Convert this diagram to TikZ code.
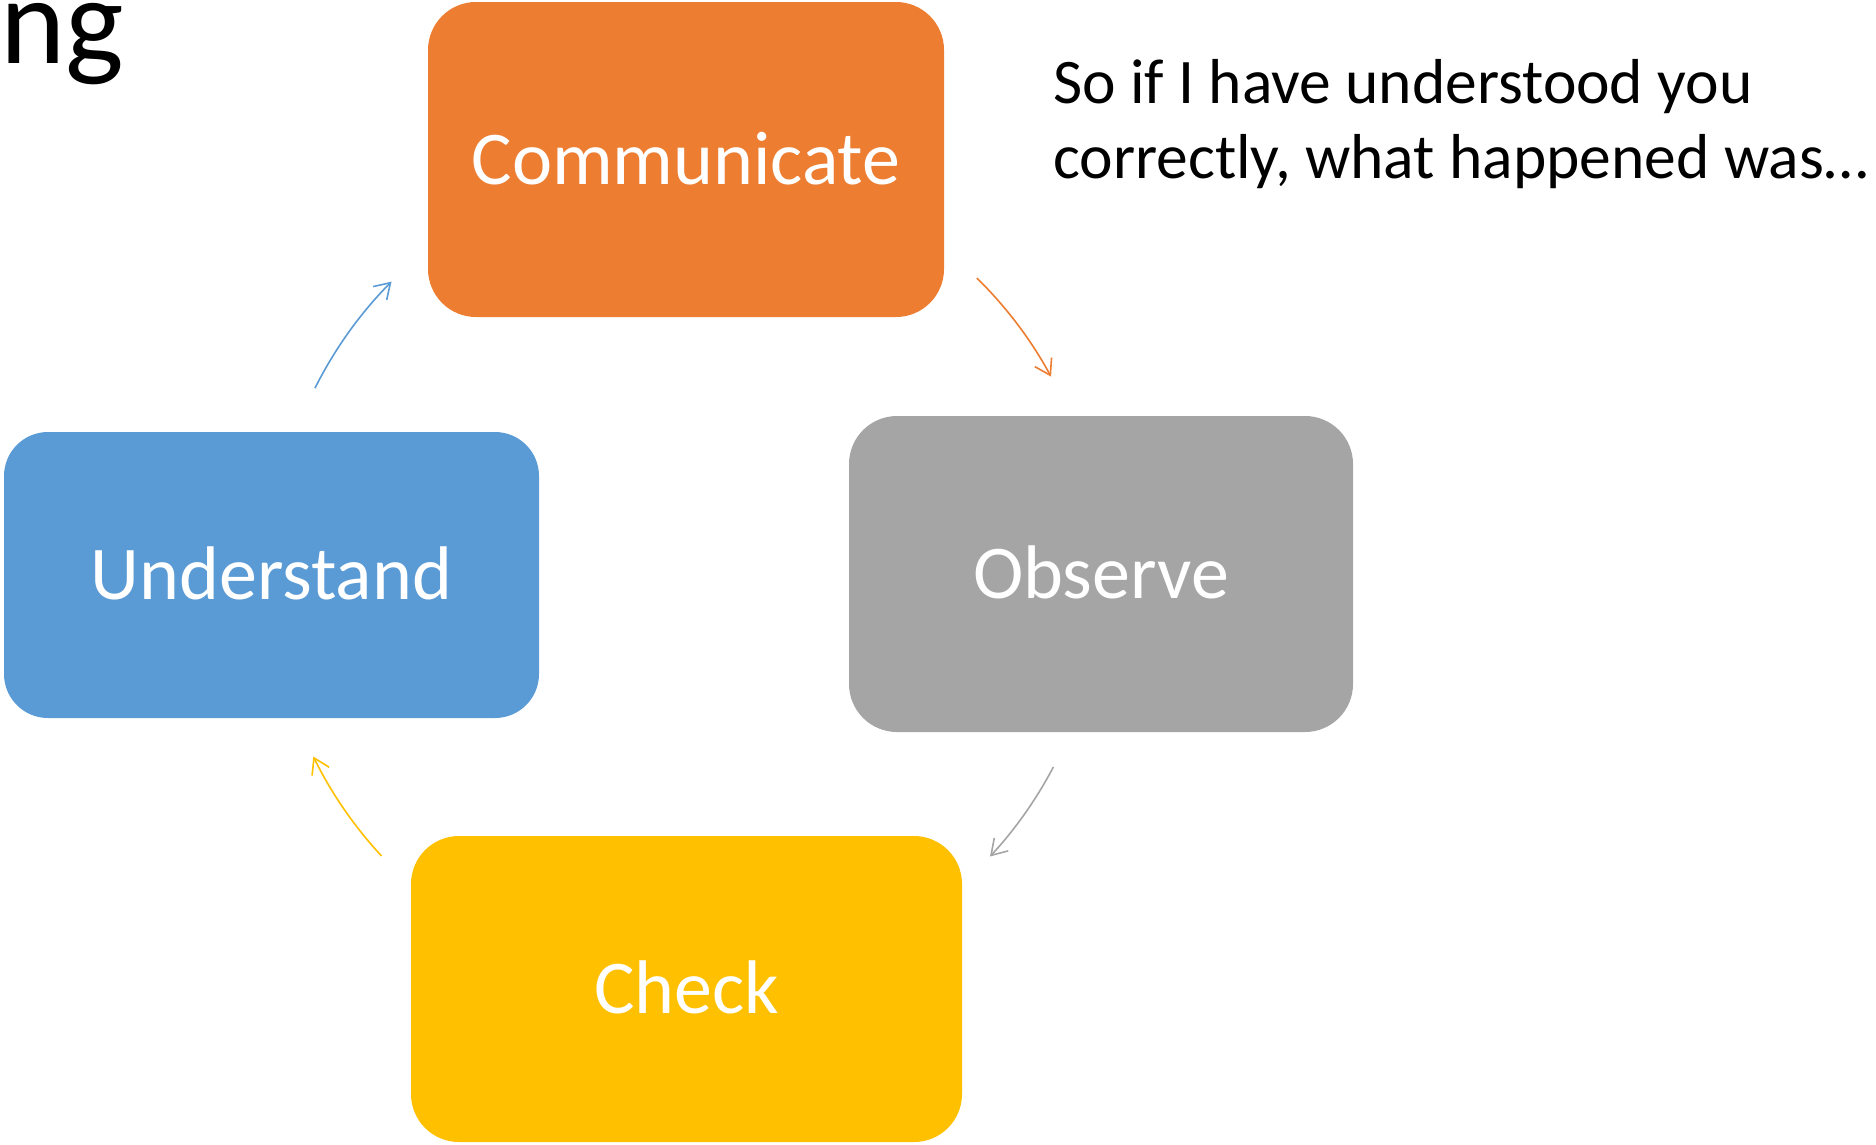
\documentclass[tikz,border=0pt]{standalone}
\usepackage{fontspec}
\setmainfont{Carlito}
\usetikzlibrary{arrows.meta}
\definecolor{corange}{HTML}{ED7D31}
\definecolor{cgray}{HTML}{A5A5A5}
\definecolor{cyellow}{HTML}{FFC000}
\definecolor{cblue}{HTML}{5B9BD5}
\begin{document}
\begin{tikzpicture}[x=1pt,y=-1pt,
  box/.style={rounded corners=48pt, text=white, font=\fontsize{76}{80}\selectfont,
    inner sep=0pt, text height=49pt, text depth=0pt, align=center},
  arr/.style={line width=1.6pt, -{Straight Barb[length=15pt,width=19pt]}}]
\useasboundingbox (0,0) rectangle (1876,1144);
\coordinate (cen) at (686,574);
\node[box, fill=corange, minimum width=516pt, minimum height=315pt] (com) at (686,159.5) {Communicate};
\node[box, fill=cgray, minimum width=504pt, minimum height=316pt] (obs) at (1101,574) {Observe};
\node[box, fill=cyellow, minimum width=551pt, minimum height=306pt] (chk) at (686.5,989) {Check};
\node[box, fill=cblue, rounded corners=44pt, minimum width=535pt, minimum height=286pt] (und) at (271.5,575) {Understand};
\draw[arr, cblue] ([shift={(-153.4:415)}]cen) arc[start angle=-153.4, end angle=-135.2, radius=415];
\draw[arr, corange] ([shift={(-45.5:415)}]cen) arc[start angle=-45.5, end angle=-28.4, radius=415];
\draw[arr, cgray] ([shift={(27.7:415)}]cen) arc[start angle=27.7, end angle=42.9, radius=415];
\draw[arr, cyellow] ([shift={(137.2:415)}]cen) arc[start angle=137.2, end angle=153.9, radius=415];
\node[anchor=base west, align=left, inner sep=0pt, font=\fontsize{63.5}{75}\selectfont] (say) at (1053,178) {So if I have understood you\\correctly, what happened was…};
\node[anchor=base west, inner sep=0pt, font=\fontsize{124}{130}\selectfont] (title) at (0,63) {ng};
\end{tikzpicture}
\end{document}
